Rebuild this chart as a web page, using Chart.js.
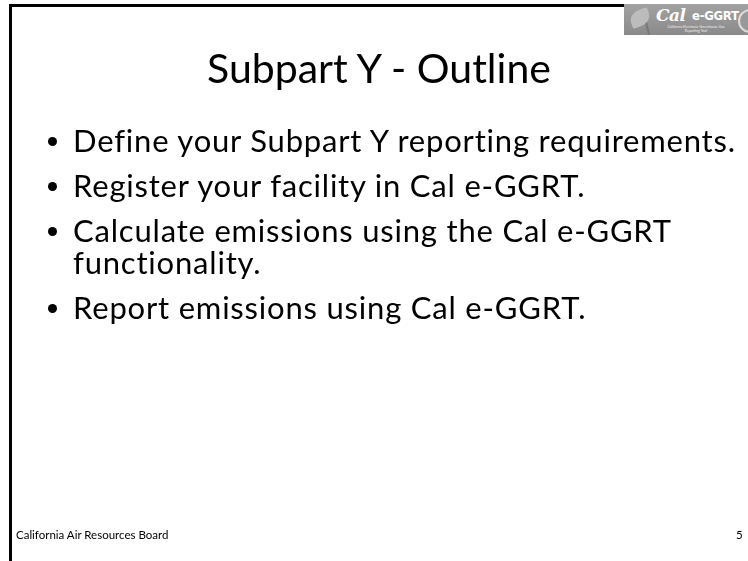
<!DOCTYPE html>
<html>
<head>
<meta charset="utf-8">
<script src="https://cdn.jsdelivr.net/npm/chart.js@4"></script>
<style>
  html, body { margin: 0; padding: 0; background: #fff; }
  body { width: 748px; height: 561px; position: relative; overflow: hidden; font-family: Lato, "Open Sans", sans-serif; color: #000; }
  #frame { position: absolute; left: 0; top: 0; }
  #title { position: absolute; left: 10px; width: 738px; top: 43px; text-align: center; font-size: 41px; line-height: 50px; white-space: nowrap; }
  ul { position: absolute; left: 47px; top: 124px; margin: 0; padding: 0; list-style: none; }
  li { position: relative; padding-left: 26px; font-size: 31px; letter-spacing: 0.8px; line-height: 32px; margin-bottom: 13px; white-space: nowrap; }
  li::before { content: ""; position: absolute; left: 1px; top: 13px; width: 9px; height: 9px; border-radius: 50%; background: #000; }
  #footer { position: absolute; left: 16px; top: 527px; font-size: 11.5px; line-height: 16px; }
  #page { position: absolute; left: 736px; top: 527px; font-size: 11.5px; line-height: 16px; }
  #logo { position: absolute; left: 624px; top: 4px; width: 124px; height: 31px; background: linear-gradient(#a2a2a2, #8a8a8a); color: #fff; overflow: hidden; }
  #logo .flower { position: absolute; left: 6px; top: 6px; width: 20px; height: 16px; border-radius: 60% 10% 60% 10%; background: #bcbcbc; transform: rotate(-20deg); }
  #logo .stem { position: absolute; left: 22px; top: 14px; width: 2px; height: 17px; background: #777; transform: rotate(-15deg); }
  #logo .cal { position: absolute; left: 32px; top: 1px; font-size: 17px; font-style: italic; font-weight: bold; font-family: "DejaVu Serif", serif; letter-spacing: -0.5px; }
  #logo .eg { position: absolute; left: 68px; top: 4px; font-size: 13px; font-weight: bold; font-family: "DejaVu Sans Condensed", "DejaVu Sans", sans-serif; letter-spacing: -0.3px; }
  #logo .small { position: absolute; left: 30px; top: 21px; width: 84px; font-size: 3.5px; line-height: 4px; text-align: center; color: #eee; }
  #logo .seal { position: absolute; left: 114px; top: 5px; width: 20px; height: 20px; border-radius: 50%; border: 2px solid #ddd; background: #999; }
</style>
</head>
<body>
<canvas id="frame" width="748" height="561"></canvas>
<div id="logo">
  <div class="stem"></div>
  <div class="flower"></div>
  <div class="cal">Cal</div>
  <div class="eg">e-GGRT</div>
  <div class="small">California Electronic Greenhouse Gas<br>Reporting Tool</div>
  <div class="seal"></div>
</div>
<div id="title"></div>
<ul id="bullets"></ul>
<div id="footer"></div>
<div id="page"></div>
<script>
const slideTitle = "Subpart Y - Outline";
const bulletItems = [
  "Define your Subpart Y reporting requirements.",
  "Register your facility in Cal e-GGRT.",
  "Calculate emissions using the Cal e-GGRT<br>functionality.",
  "Report emissions using Cal e-GGRT."
];
const footerText = "California Air Resources Board";
const pageNumber = "5";

document.getElementById("title").textContent = slideTitle;
document.getElementById("footer").textContent = footerText;
document.getElementById("page").textContent = pageNumber;
const ul = document.getElementById("bullets");
bulletItems.forEach(function (t) {
  const li = document.createElement("li");
  li.innerHTML = t;
  ul.appendChild(li);
});

// slide frame: thick top and left rules drawn on an empty chart
const framePlugin = {
  id: "frame",
  afterDraw(chart) {
    const ctx = chart.ctx;
    ctx.save();
    ctx.strokeStyle = "#000";
    ctx.lineWidth = 3;
    ctx.beginPath();
    ctx.moveTo(10.5, 561);
    ctx.lineTo(10.5, 5.5);
    ctx.lineTo(748, 5.5);
    ctx.stroke();
    ctx.restore();
  }
};

new Chart(document.getElementById("frame"), {
  type: "scatter",
  data: { datasets: [] },
  options: {
    responsive: false,
    animation: false,
    plugins: { legend: { display: false }, tooltip: { enabled: false } },
    scales: { x: { display: false }, y: { display: false } }
  },
  plugins: [framePlugin]
});
</script>
</body>
</html>
